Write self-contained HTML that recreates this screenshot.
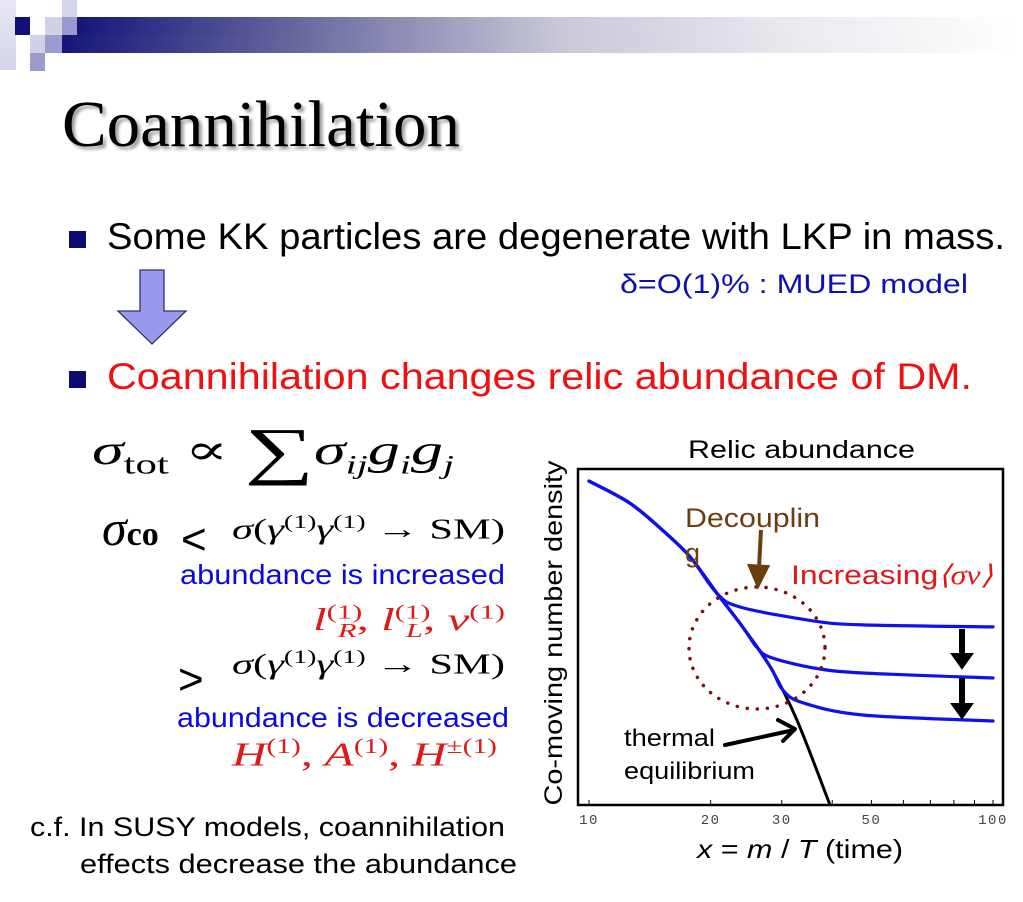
<!DOCTYPE html>
<html><head><meta charset="utf-8">
<style>
body{margin:0;background:#fff;}
#slide{position:relative;width:1023px;height:902px;overflow:hidden;background:#fff;font-family:"Liberation Sans",sans-serif;}
.a{position:absolute;white-space:nowrap;line-height:1.15;}
.serif{font-family:"Liberation Serif","DejaVu Serif",serif;}
.sq{position:absolute;}
[data-fw]{transform-origin:0 0;}
</style></head><body>
<div id="slide">
  <div class="sq" style="left:0;top:0;width:16px;height:70px;background:linear-gradient(#e8e8f4,#d4d4ea)"></div>
  <div class="sq" style="left:15px;top:17px;width:15px;height:18px;background:#10107a"></div>
  <div class="sq" style="left:45px;top:17px;width:17px;height:18px;background:#d0d0e6"></div>
  <div class="sq" style="left:62px;top:0;width:15px;height:17px;background:#d6d6ea"></div>
  <div class="sq" style="left:62px;top:17px;width:15px;height:18px;background:#9a9acc"></div>
  <div class="sq" style="left:30px;top:35px;width:15px;height:18px;background:#d0d0e6"></div>
  <div class="sq" style="left:45px;top:35px;width:17px;height:18px;background:#9c9cd0"></div>
  <div class="sq" style="left:30px;top:53px;width:15px;height:18px;background:#9c9ccc"></div>
  <div class="sq" style="left:62px;top:35px;width:960px;height:18px;background:linear-gradient(90deg,#16167a 0%,#6a6aa0 25%,#c8c8d8 52%,#ebebf0 78%,#ffffff 100%)"></div>
  <div class="sq" style="left:77px;top:17px;width:945px;height:18px;background:linear-gradient(90deg,#16167a 0%,#6a6aa0 24%,#c8c8d8 51%,#ebebf0 77%,#ffffff 100%)"></div>

  <div class="a serif" data-fw="398" style="left:62px;top:87px;font-size:66px;color:#000;text-shadow:3px 3px 3px #999">Coannihilation</div>

  <div class="sq" style="left:69px;top:231px;width:17px;height:17px;background:#0c0c70"></div>
  <div class="a" data-fw="898" style="left:107px;top:216px;font-size:37px;color:#000">Some KK particles are degenerate with LKP in mass.</div>
  <div class="a" data-fw="348" style="left:620px;top:269px;font-size:27px;color:#1010b0">δ=O(1)% : MUED model</div>

  <svg class="a" style="left:115px;top:268px" width="75" height="80">
    <polygon points="25,2 49,2 49,43 71,43 37,76 3,43 25,43" fill="#9999ee" stroke="#333366" stroke-width="1.3"/>
  </svg>

  <div class="sq" style="left:69px;top:371px;width:17px;height:17px;background:#0c0c70"></div>
  <div class="a" data-fw="865" style="left:107px;top:356px;font-size:37px;color:#f01010">Coannihilation changes relic abundance of DM.</div>

  <div class="a serif" data-fw="362" style="left:92px;top:414px;font-size:42px;color:#000"><i>σ</i><sub style="font-size:28px">tot</sub> ∝ <span style="font-size:64px;vertical-align:-8px">∑</span><i>σ<sub style="font-size:26px">ij</sub>g<sub style="font-size:26px">i</sub>g<sub style="font-size:26px">j</sub></i></div>

  <div class="a serif" style="left:102px;top:500px;font-size:50px;color:#000"><i>σ</i><span style="font-size:34px;font-weight:bold">co</span></div>
  <div class="a" style="left:181px;top:515px;font-size:44px;color:#000">&lt;</div>
  <div class="a serif" data-fw="273" style="left:232px;top:512px;font-size:29px;color:#000"><i>σ</i>(<i>γ</i><sup style="font-size:19px">(1)</sup><i>γ</i><sup style="font-size:19px">(1)</sup> → SM)</div>
  <div class="a" data-fw="325" style="left:180px;top:559px;font-size:28px;color:#0a0ae0">abundance is increased</div>
  <div class="a serif" data-fw="192" style="left:313px;top:601px;font-size:32px;color:#e01818"><i>l</i><sup style="font-size:20px">(1)</sup><sub style="font-size:20px;margin-left:-16px"><i>R</i></sub>, <i>l</i><sup style="font-size:20px">(1)</sup><sub style="font-size:20px;margin-left:-16px"><i>L</i></sub>, <i>ν</i><sup style="font-size:20px">(1)</sup></div>
  <div class="a" style="left:178px;top:655px;font-size:44px;color:#000">&gt;</div>
  <div class="a serif" data-fw="273" style="left:232px;top:647px;font-size:29px;color:#000"><i>σ</i>(<i>γ</i><sup style="font-size:19px">(1)</sup><i>γ</i><sup style="font-size:19px">(1)</sup> → SM)</div>
  <div class="a" data-fw="332" style="left:177px;top:702px;font-size:28px;color:#0a0ae0">abundance is decreased</div>
  <div class="a serif" data-fw="265" style="left:232px;top:734px;font-size:34px;color:#e01818"><i>H</i><sup style="font-size:21px">(1)</sup>, <i>A</i><sup style="font-size:21px">(1)</sup>, <i>H</i><sup style="font-size:21px">±(1)</sup></div>

  <div class="a" data-fw="475" style="left:30px;top:812px;font-size:27px;color:#000">c.f. In SUSY models, coannihilation</div>
  <div class="a" data-fw="437" style="left:80px;top:849px;font-size:27px;color:#000">effects decrease the abundance</div>

  <svg id="chart" class="a" style="left:0;top:0" width="1023" height="902"></svg>
</div>
<script>
const xVals = [10,12.6,15.2,17.8,20.7,24.0,28.1,32.7,39.5];
const eqVals = [96.4,89.9,81.8,73.8,63.1,53.0,41.1,25.3,0];
const c1X = [10,12.6,15.2,17.8,20.7,23.7,35.9,47.6,100];
const c1Y = [96.4,89.9,81.8,73.8,63.1,58.9,54.8,53.6,53.0];
const c2X = [10,12.6,15.2,17.8,20.7,24.0,26.0,28.1,35.9,47.6,100];
const c2Y = [96.4,89.9,81.8,73.8,63.1,53.0,47.0,44.0,40.8,39.3,37.8];
const c3X = [10,12.6,15.2,17.8,20.7,24.0,28.1,30.2,33.9,47.6,100];
const c3Y = [96.4,89.9,81.8,73.8,63.1,53.0,41.1,34.2,30.4,26.8,25.0];
const tickVals = [10,20,30,50,100];
const tickLabels = ["10","20","30","50","100"];
const minorTicks = [40,60,70,80,90];

document.querySelectorAll('[data-fw]').forEach(el=>{
  const w=el.getBoundingClientRect().width;
  const t=+el.getAttribute('data-fw');
  if(w>0) el.style.transform='scaleX('+(t/w)+')';
});

const NS="http://www.w3.org/2000/svg";
const svg=document.getElementById('chart');
const X0=589, X1=993, Y0=805;
function sx(v){return X0+(Math.log10(v)-1)*(X1-X0);}
function sy(v){return Y0-v*3.36;}
function mk(tag,attrs,parent){const e=document.createElementNS(NS,tag);for(const k in attrs)e.setAttribute(k,attrs[k]);(parent||svg).appendChild(e);return e;}
function txt(s,attrs){const t=mk('text',attrs);t.textContent=s;return t;}

const frame=mk('rect',{x:578,y:469,width:425,height:336,fill:'none',stroke:'#000','stroke-width':2.5});



tickVals.concat(minorTicks).forEach(v=>{
  const t=mk('line',{x1:sx(v),x2:sx(v),y1:805,y2:800,stroke:'#000','stroke-width':1});
  
  
});
tickVals.forEach((v,i)=>{
  const t=txt(tickLabels[i],{x:sx(v),y:824,'font-size':14,'font-family':'Liberation Mono, monospace',fill:'#444','text-anchor':'middle','letter-spacing':'1.5'});
  
  
});

function path(xs,ys){
  const p=xs.map((x,i)=>[sx(x),sy(ys[i])]);
  let d='M'+p[0][0].toFixed(1)+','+p[0][1].toFixed(1);
  for(let i=0;i<p.length-1;i++){
    const p0=p[Math.max(0,i-1)],p1=p[i],p2=p[i+1],p3=p[Math.min(p.length-1,i+2)];
    const c1=[p1[0]+(p2[0]-p0[0])/6,p1[1]+(p2[1]-p0[1])/6];
    const c2=[p2[0]-(p3[0]-p1[0])/6,p2[1]-(p3[1]-p1[1])/6];
    d+=' C'+c1.map(v=>v.toFixed(1)).join(',')+' '+c2.map(v=>v.toFixed(1)).join(',')+' '+p2.map(v=>v.toFixed(1)).join(',');
  }
  return d;
}
const eq=mk('path',{d:path(xVals,eqVals),fill:'none',stroke:'#000','stroke-width':3,'stroke-linejoin':'round'});


[[c1X,c1Y],[c2X,c2Y],[c3X,c3Y]].forEach(([xs,ys],i)=>{
  const p=mk('path',{d:path(xs,ys),fill:'none',stroke:'#1010ee','stroke-width':3.2,'stroke-linejoin':'round','stroke-linecap':'round'});
  
  
});

const circ=mk('ellipse',{cx:757,cy:648,rx:68,ry:61,fill:'none',stroke:'#7a1010','stroke-width':3.5,'stroke-dasharray':'0.1 10','stroke-linecap':'round'});



const ba=mk('path',{d:'M761,530 L759,568 M750,566 L758,585 L767,567 Z',stroke:'#6b3e10','stroke-width':4,fill:'#6b3e10'});


const ka=mk('path',{d:'M725,745 L794,730 M778,720 L795,729 L783,741',stroke:'#000','stroke-width':4,fill:'none','stroke-linecap':'round','stroke-linejoin':'round'});


[[630,668],[679,718]].forEach(([a,b],i)=>{
  const g=mk('path',{d:`M960,${a} L960,${b-14} L952,${b-14} L962,${b} L972,${b-14} L964,${b-14} L964,${a} Z`,fill:'#000',stroke:'#000','stroke-width':2});
  
  
});

const labels=[
 ['Relic abundance',{x:688,y:458,'font-size':25,fill:'#000',textLength:227},'chart-title'],
 ['Decouplin',{x:685,y:527,'font-size':27,fill:'#6b3e10',textLength:135},'decoupling-label'],
 ['g',{x:685,y:562,'font-size':27,fill:'#6b3e10'},'decoupling-label-2'],
 ['thermal',{x:624,y:746,'font-size':24,fill:'#000',textLength:91},'thermal-label'],
 ['equilibrium',{x:624,y:779,'font-size':24,fill:'#000',textLength:131},'equilibrium-label'],
];
labels.forEach(([s,a,n])=>{const t=txt(s,Object.assign({'font-family':'Liberation Sans, sans-serif',lengthAdjust:'spacingAndGlyphs'},a));
  
  });
const inc=mk('text',{x:791,y:584,'font-size':27,fill:'#e01818','font-family':'Liberation Sans, sans-serif',textLength:202,lengthAdjust:'spacingAndGlyphs'});
inc.innerHTML='Increasing<tspan font-family="Liberation Serif, serif" font-style="italic">⟨σv⟩</tspan>';


const yl=txt('Co-moving number density',{x:0,y:0,'font-size':25,fill:'#000','font-family':'Liberation Sans, sans-serif','text-anchor':'middle',transform:'translate(562,633) rotate(-90)',textLength:345,lengthAdjust:'spacingAndGlyphs'});


const xl=mk('text',{x:697,y:858,'font-size':26,fill:'#000','font-family':'Liberation Sans, sans-serif',textLength:206,lengthAdjust:'spacingAndGlyphs'});
xl.innerHTML='<tspan font-style="italic">x</tspan> = <tspan font-style="italic">m</tspan> / <tspan font-style="italic">T</tspan> (time)';


</script>
</body></html>
